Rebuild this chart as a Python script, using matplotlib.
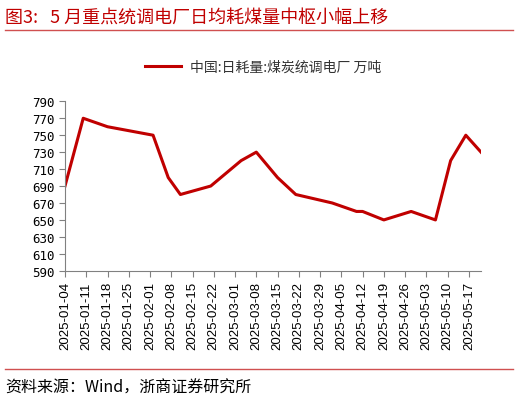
import matplotlib
matplotlib.use('Agg')
import matplotlib.pyplot as plt
import matplotlib.dates as mdates
import pandas as pd

plt.rcParams['font.family'] = ['Noto Sans CJK SC', 'DejaVu Sans']

# 日耗量（万吨）
dates = ['2025-01-04', '2025-01-10', '2025-01-18', '2025-02-02', '2025-02-07',
         '2025-02-11', '2025-02-21', '2025-03-03', '2025-03-08', '2025-03-15',
         '2025-03-21', '2025-04-02', '2025-04-10', '2025-04-12', '2025-04-19',
         '2025-04-28', '2025-05-06', '2025-05-11', '2025-05-16', '2025-05-21']
values = [690, 770, 760, 750, 700,
          680, 690, 720, 730, 700,
          680, 670, 660, 660, 650,
          660, 650, 720, 750, 730]
tick_dates = pd.date_range('2025-01-04', '2025-05-17', freq='7D')
yticks = list(range(590, 791, 20))

title = '图3:   5 月重点统调电厂日均耗煤量中枢小幅上移'
legend_label = '中国:日耗量:煤炭统调电厂 万吨'
source = '资料来源：Wind，浙商证券研究所'

red = '#C00000'
x = pd.to_datetime(dates)

fig = plt.figure(figsize=(5.2, 4.02), dpi=100)
ax = fig.add_axes([0.125, 0.324, 0.8, 0.4215])

ax.plot(x, values, color=red, lw=2.2, label=legend_label)

ax.set_xlim(x[0], x[-1])
ax.set_ylim(590, 790)
ax.set_yticks(yticks)
ax.set_xticks(tick_dates)
ax.xaxis.set_major_formatter(mdates.DateFormatter('%Y-%m-%d'))
for lab in ax.get_xticklabels():
    lab.set_rotation(90)
    lab.set_fontfamily('Liberation Sans')
    lab.set_fontsize(9.5)
for lab in ax.get_yticklabels():
    lab.set_fontfamily('DejaVu Sans Mono')
    lab.set_fontsize(9)

for s in ['top', 'right']:
    ax.spines[s].set_visible(False)
for s in ['left', 'bottom']:
    ax.spines[s].set_color('#808080')
ax.tick_params(axis='both', direction='out', length=4, color='#808080', colors='black')

ax.legend(loc='upper center', bbox_to_anchor=(0.476, 1.32), frameon=False,
          fontsize=10, handlelength=2.6, handletextpad=0.6, labelcolor='#333333')

fig.text(0.01, 0.955, title, color=red, fontsize=13, va='center', ha='left')
fig.add_artist(plt.Line2D([0.01, 0.987], [0.923, 0.923], color='#D05050', lw=1))
fig.add_artist(plt.Line2D([0.01, 0.987], [0.08, 0.08], color='#D05050', lw=1))
fig.text(0.01, 0.035, source, fontsize=11.5, va='center', ha='left')

fig.savefig('out.png', dpi=100)
